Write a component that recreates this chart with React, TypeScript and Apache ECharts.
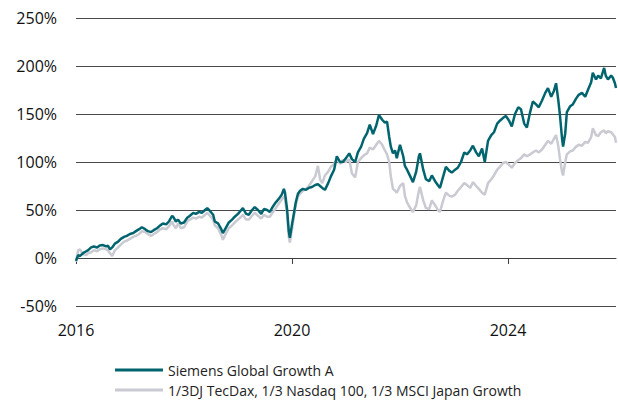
import React, { useEffect, useRef } from "react";
import * as echarts from "echarts";

const dates = [
  2016.0, 2016.04, 2016.07, 2016.13, 2016.19, 2016.22, 2016.28, 2016.33, 2016.39, 2016.44,
  2016.5, 2016.56, 2016.59, 2016.63, 2016.67, 2016.72, 2016.78, 2016.83, 2016.89, 2016.94,
  2017.0, 2017.06, 2017.11, 2017.17, 2017.22, 2017.28, 2017.33, 2017.39, 2017.44, 2017.5,
  2017.56, 2017.61, 2017.67, 2017.72, 2017.78, 2017.81, 2017.85, 2017.89, 2017.94, 2018.0,
  2018.06, 2018.11, 2018.17, 2018.22, 2018.28, 2018.33, 2018.39, 2018.43, 2018.48, 2018.54,
  2018.57, 2018.63, 2018.69, 2018.72, 2018.78, 2018.83, 2018.89, 2018.94, 2019.0, 2019.06,
  2019.09, 2019.15, 2019.2, 2019.26, 2019.31, 2019.37, 2019.43, 2019.48, 2019.54, 2019.59,
  2019.65, 2019.7, 2019.76, 2019.81, 2019.85, 2019.87, 2019.91, 2019.94, 2019.96, 2020.0,
  2020.04, 2020.07, 2020.11, 2020.15, 2020.2, 2020.26, 2020.31, 2020.37, 2020.43, 2020.48,
  2020.52, 2020.56, 2020.61, 2020.67, 2020.72, 2020.78, 2020.83, 2020.89, 2020.94, 2021.0,
  2021.06, 2021.11, 2021.17, 2021.22, 2021.28, 2021.33, 2021.39, 2021.44, 2021.5, 2021.56,
  2021.61, 2021.67, 2021.72, 2021.76, 2021.8, 2021.83, 2021.87, 2021.91, 2021.94, 2022.0,
  2022.06, 2022.09, 2022.13, 2022.19, 2022.24, 2022.3, 2022.35, 2022.37, 2022.43, 2022.48,
  2022.54, 2022.59, 2022.65, 2022.7, 2022.74, 2022.8, 2022.85, 2022.91, 2022.96, 2023.02,
  2023.07, 2023.13, 2023.19, 2023.24, 2023.3, 2023.35, 2023.41, 2023.46, 2023.52, 2023.57,
  2023.63, 2023.69, 2023.74, 2023.8, 2023.85, 2023.91, 2023.96, 2024.02, 2024.07, 2024.13,
  2024.19, 2024.24, 2024.3, 2024.35, 2024.41, 2024.46, 2024.52, 2024.57, 2024.63, 2024.69,
  2024.74, 2024.8, 2024.85, 2024.89, 2024.93, 2024.96, 2025.0, 2025.02, 2025.06, 2025.09,
  2025.15, 2025.2, 2025.26, 2025.31, 2025.37, 2025.43, 2025.48, 2025.54, 2025.57, 2025.63,
  2025.67, 2025.72, 2025.78, 2025.81, 2025.85, 2025.91, 2025.94, 2025.98, 2026.0,
];

const siemens = [
  -3, 3, 2, 5, 7, 8, 11, 12, 11, 13,
  13.5, 12, 13, 9, 11, 15, 17, 20, 22, 23,
  25, 26, 28, 30, 32, 30, 28, 27, 29, 31,
  34, 36, 35, 38, 44, 42, 38, 40, 36, 37,
  42, 44, 47, 46, 48, 47, 50, 52, 49, 45,
  38, 36, 30, 26, 32, 37, 40, 43, 46, 50,
  52, 46, 45, 50, 53, 50, 46, 51, 50, 48,
  54, 58, 62, 66, 72, 68, 50, 28, 21, 35,
  48, 58, 67, 70, 72, 71, 73, 74, 76, 77,
  75, 73, 71, 78, 85, 92, 106, 100, 100, 104,
  109, 103, 100, 110, 116, 124, 130, 139, 129, 138,
  149, 144, 141, 142, 126, 116, 109, 112, 104, 118,
  106, 96, 92, 85, 79, 90, 106, 109, 92, 82,
  80, 86, 80, 76, 73, 85, 95, 91, 89, 92,
  94, 100, 110, 108, 112, 117, 110, 106, 114, 100,
  122, 128, 131, 140, 143, 146, 148, 143, 137, 150,
  157, 155, 140, 136, 152, 163, 160, 157, 164, 172,
  177, 168, 174, 182, 165, 150, 125, 116, 130, 152,
  158, 160, 166, 170, 172, 168, 175, 183, 193, 186,
  190, 187, 198, 190, 186, 190, 188, 182, 177,
];

const benchmark = [
  -4, 8, 9, 4, 3, 5, 6, 8, 7, 9,
  10, 9, 8, 5, 2, 8, 11, 14, 17, 18,
  20, 22, 23, 25, 28, 27, 25, 23, 25, 27,
  30, 31, 30, 33, 38, 34, 31, 36, 31, 32,
  38, 40, 42, 41, 43, 42, 45, 47, 44, 40,
  34, 31, 24, 19, 26, 31, 34, 37, 40, 43,
  45, 40, 40, 44, 47, 44, 41, 45, 43, 43,
  48, 52, 57, 61, 64, 62, 45, 22, 16, 30,
  45, 55, 64, 67, 70, 72, 75, 80, 85, 96,
  82, 78, 86, 90, 95, 98, 103, 98, 102, 100,
  103, 88, 84, 100, 104, 107, 109, 115, 113, 118,
  122, 118, 112, 108, 100, 85, 72, 70, 68, 75,
  78, 65, 58, 52, 48, 55, 70, 74, 60, 52,
  51, 60, 55, 50, 48, 60, 68, 65, 64, 66,
  70, 74, 78, 76, 73, 79, 75, 72, 68, 66,
  78, 82, 86, 92, 95, 99, 100, 97, 94, 99,
  102, 104, 108, 106, 108, 110, 112, 110, 113, 118,
  122, 119, 124, 128, 117, 104, 90, 86, 100, 108,
  111, 112, 116, 118, 117, 121, 120, 126, 135, 128,
  127, 131, 133, 130, 132, 131, 129, 126, 120,
];

const seriesNames = [
  "Siemens Global Growth A",
  "1/3DJ TecDax, 1/3 Nasdaq 100, 1/3 MSCI Japan Growth",
];

const yTicks = { min: -50, max: 250, interval: 50 };
const xTicks = { min: 2016, max: 2026, interval: 4 };

const FONT = "'Open Sans', sans-serif";

export default function App() {
  const ref = useRef<HTMLDivElement>(null);

  useEffect(() => {
    if (!ref.current) return;
    const chart = echarts.init(ref.current, undefined, { renderer: "svg" });
    const toPairs = (vals: number[]) => dates.map((d, i) => [d, vals[i]]);
    chart.setOption({
      animation: false,
      backgroundColor: "#ffffff",
      grid: { left: 76, right: 2, top: 18, bottom: 95 },
      legend: {
        orient: "vertical",
        left: 115,
        top: 361,
        padding: 0,
        icon: "rect",
        itemWidth: 48,
        itemHeight: 3,
        itemGap: 2,
        textStyle: { fontFamily: FONT, fontSize: 14, color: "#222", lineHeight: 18 },
        data: seriesNames,
      },
      xAxis: {
        type: "value",
        min: xTicks.min,
        max: xTicks.max,
        interval: xTicks.interval,
        axisLine: { show: true, onZero: true, lineStyle: { color: "#404040", width: 1 } },
        axisTick: { show: true, length: 6, lineStyle: { color: "#404040" } },
        splitLine: { show: false },
        axisLabel: {
          margin: 16,
          fontFamily: FONT,
          fontSize: 16,
          color: "#111",
          showMaxLabel: false,
          formatter: (v: number) => String(Math.round(v)),
        },
      },
      yAxis: {
        type: "value",
        min: yTicks.min,
        max: yTicks.max,
        interval: yTicks.interval,
        axisLine: { show: false },
        axisTick: { show: false },
        splitLine: { show: true, lineStyle: { color: "#4a4a4a", width: 1 } },
        axisLabel: {
          margin: 19,
          fontFamily: FONT,
          fontSize: 16,
          color: "#111",
          formatter: (v: number) => v + "%",
        },
      },
      series: [
        {
          name: seriesNames[0],
          type: "line",
          data: toPairs(siemens),
          symbol: "none",
          z: 3,
          lineStyle: { color: "#00646E", width: 2.5 },
          itemStyle: { color: "#00646E" },
        },
        {
          name: seriesNames[1],
          type: "line",
          data: toPairs(benchmark),
          symbol: "none",
          z: 2,
          lineStyle: { color: "#C9CAD2", width: 2.5 },
          itemStyle: { color: "#C9CAD2" },
        },
      ],
    });
    return () => chart.dispose();
  }, []);

  return <div ref={ref} style={{ width: 618, height: 401, position: "absolute", left: 0, top: 0 }} />;
}
